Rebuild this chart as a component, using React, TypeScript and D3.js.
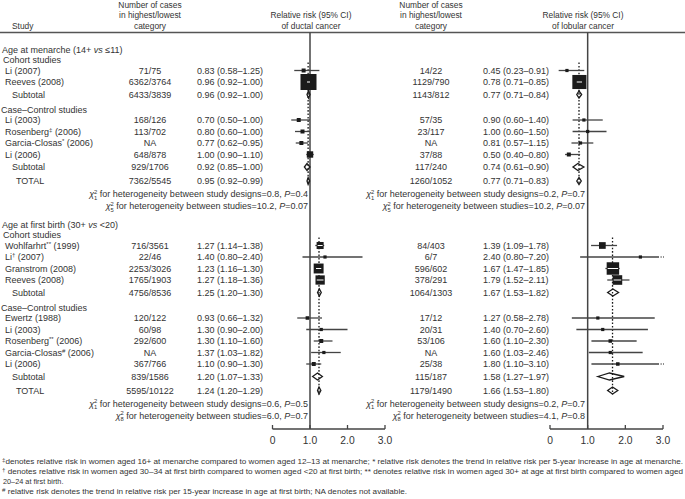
import * as d3 from "d3";

const W = 685;
const H = 499;
const FONT = "'Liberation Sans', Arial, Helvetica, sans-serif";
const TEXT = "#333";
const INK = "#1b1b1b";
const LINE = "#444";

type Study = [string, string, string]; // name, footnote mark, year

const menarcheCohort: Study[] = [["Li", "", "(2007)"], ["Reeves", "", "(2008)"]];
const menarcheCaseControl: Study[] = [
  ["Li", "", "(2003)"],
  ["Rosenberg", "‡", "(2006)"],
  ["Garcia-Closas", "*", "(2006)"],
  ["Li", "", "(2006)"],
];
const birthCohort: Study[] = [
  ["Wohlfarhrt", "**", "(1999)"],
  ["Li", "†", "(2007)"],
  ["Granstrom", "", "(2008)"],
  ["Reeves", "", "(2008)"],
];
const birthCaseControl: Study[] = [
  ["Ewertz", "", "(1988)"],
  ["Li", "", "(2003)"],
  ["Rosenberg", "**", "(2006)"],
  ["Garcia-Closas", "#", "(2006)"],
  ["Li", "", "(2006)"],
];

// row order: cohort studies, cohort subtotal, case-control studies, case-control subtotal, total
const ductalMenarcheCases = ["71/75", "6362/3764", "6433/3839", "168/126", "113/702", "NA", "648/878", "929/1706", "7362/5545"];
const ductalMenarcheRR = [0.83, 0.96, 0.96, 0.7, 0.8, 0.77, 1.0, 0.92, 0.95];
const ductalMenarcheLow = [0.58, 0.92, 0.92, 0.5, 0.6, 0.62, 0.9, 0.85, 0.92];
const ductalMenarcheHigh = [1.25, 1.0, 1.0, 1.0, 1.0, 0.95, 1.1, 1.0, 0.99];
const ductalMenarcheBox = [0.25, 1, 0, 0.25, 0.25, 0.25, 0.4, 0, 0];
const ductalMenarcheHetDf = ["1", "5"];
const ductalMenarcheHetStat = ["study designs=0.8", "studies=10.2"];
const ductalMenarcheHetP = ["0.4", "0.07"];

const lobularMenarcheCases = ["14/22", "1129/790", "1143/812", "57/35", "23/117", "NA", "37/88", "117/240", "1260/1052"];
const lobularMenarcheRR = [0.45, 0.78, 0.77, 0.9, 1.0, 0.81, 0.5, 0.74, 0.77];
const lobularMenarcheLow = [0.23, 0.71, 0.71, 0.6, 0.6, 0.57, 0.4, 0.61, 0.71];
const lobularMenarcheHigh = [0.91, 0.85, 0.84, 1.4, 1.5, 1.15, 0.8, 0.9, 0.83];
const lobularMenarcheBox = [0.2, 0.88, 0, 0.2, 0.2, 0.2, 0.25, 0, 0];
const lobularMenarcheHetDf = ["1", "5"];
const lobularMenarcheHetStat = ["study designs=0.2", "studies=10.2"];
const lobularMenarcheHetP = ["0.7", "0.07"];

const ductalBirthCases = ["716/3561", "22/46", "2253/3026", "1765/1903", "4756/8536", "120/122", "60/98", "292/600", "NA", "367/766", "839/1586", "5595/10122"];
const ductalBirthRR = [1.27, 1.4, 1.23, 1.27, 1.25, 0.93, 1.3, 1.3, 1.37, 1.1, 1.2, 1.24];
const ductalBirthLow = [1.14, 0.8, 1.16, 1.18, 1.2, 0.66, 0.9, 1.1, 1.03, 0.9, 1.07, 1.2];
const ductalBirthHigh = [1.38, 2.4, 1.3, 1.36, 1.3, 1.32, 2.0, 1.6, 1.82, 1.3, 1.33, 1.29];
const ductalBirthBox = [0.44, 0.2, 0.62, 0.58, 0, 0.22, 0.2, 0.25, 0.2, 0.25, 0, 0];
const ductalBirthHetDf = ["1", "8"];
const ductalBirthHetStat = ["study designs=0.6", "studies=6.0"];
const ductalBirthHetP = ["0.5", "0.7"];

const lobularBirthCases = ["84/403", "6/7", "596/602", "378/291", "1064/1303", "17/12", "20/31", "53/106", "NA", "25/38", "115/187", "1179/1490"];
const lobularBirthRR = [1.39, 2.4, 1.67, 1.79, 1.67, 1.27, 1.4, 1.6, 1.6, 1.8, 1.58, 1.66];
const lobularBirthLow = [1.09, 0.8, 1.47, 1.52, 1.53, 0.58, 0.7, 1.1, 1.03, 1.1, 1.27, 1.53];
const lobularBirthHigh = [1.78, 7.2, 1.85, 2.11, 1.82, 2.78, 2.6, 2.3, 2.46, 3.1, 1.97, 1.8];
const lobularBirthBox = [0.42, 0.2, 0.78, 0.6, 0, 0.2, 0.2, 0.22, 0.2, 0.22, 0, 0];
const lobularBirthHetDf = ["1", "8"];
const lobularBirthHetStat = ["study designs=0.2", "studies=4.1"];
const lobularBirthHetP = ["0.7", "0.8"];

const axisTicks = [0, 1, 2, 3];

const footnotes = [
  ["‡", "denotes relative risk in women aged 16+ at menarche compared to women aged 12–13 at menarche; * relative risk denotes the trend in relative risk per 5-year increase in age at menarche."],
  ["†", " denotes relative risk in women aged 30–34 at first birth compared to women aged <20 at first birth; ** denotes relative risk in women aged 30+ at age at first birth compared to women aged"],
  ["", "20–24 at first birth."],
  ["#", " relative risk denotes the trend in relative risk per 15-year increase in age at first birth; NA denotes not available."],
];

interface SectionData {
  cases: string[];
  rr: number[];
  low: number[];
  high: number[];
  box: number[];
  hetDf: string[];
  hetStat: string[];
  hetP: string[];
}

type Row =
  | { kind: "title"; y: number }
  | { kind: "head"; y: number; text: string }
  | { kind: "study"; y: number; study: Study; k: number }
  | { kind: "sub"; y: number; k: number }
  | { kind: "total"; y: number; k: number }
  | { kind: "het"; y: number; h: number };

const GAP = { head: 10, first: 10.5, study: 11.5, sub: 12.5, block: 15, total: 14, het1: 13, het2: 12 };

function layoutSection(y0: number, cohort: Study[], cc: Study[]): Row[] {
  const rows: Row[] = [];
  let y = y0;
  let k = 0;
  rows.push({ kind: "title", y });
  y += GAP.head;
  rows.push({ kind: "head", y, text: "Cohort studies" });
  cohort.forEach((s, i) => {
    y += i === 0 ? GAP.first : GAP.study;
    rows.push({ kind: "study", y, study: s, k: k++ });
  });
  y += GAP.sub;
  rows.push({ kind: "sub", y, k: k++ });
  y += GAP.block;
  rows.push({ kind: "head", y, text: "Case–Control studies" });
  cc.forEach((s, i) => {
    y += i === 0 ? GAP.first : GAP.study;
    rows.push({ kind: "study", y, study: s, k: k++ });
  });
  y += GAP.sub;
  rows.push({ kind: "sub", y, k: k++ });
  y += GAP.total;
  rows.push({ kind: "total", y, k: k++ });
  y += GAP.het1;
  rows.push({ kind: "het", y, h: 0 });
  y += GAP.het2;
  rows.push({ kind: "het", y, h: 1 });
  return rows;
}

const HEADER_LINE_Y = 32.5;
const AXIS_Y = 429;
const FS = 9;
const HEAD_FS = 8.4;

const sections = [layoutSection(50, menarcheCohort, menarcheCaseControl), layoutSection(225, birthCohort, birthCaseControl)];
const titles = [
  ["Age at menarche (14+ ", "vs", " ≤11)"],
  ["Age at first birth (30+ ", "vs", " <20)"],
];

const fmt = (v: number) => v.toFixed(2);
const boxSize = d3.scaleLinear().domain([0, 1]).range([0, 16]);

interface PanelCfg {
  casesX: number;
  rrTextX: number;
  headX: number;
  range: [number, number];
  hetEnd: number;
  cancer: string;
  data: SectionData[];
}

function Panel({ cfg }: { cfg: PanelCfg }) {
  const x = d3.scaleLinear().domain([0, 3]).range(cfg.range);
  const xMax = x(3);
  const one = x(1);
  return (
    <g>
      {/* header */}
      <g fontSize={HEAD_FS}>
        <text x={cfg.casesX} y={5} dy="0.35em" textAnchor="middle">Number of cases</text>
        <text x={cfg.casesX} y={15.5} dy="0.35em" textAnchor="middle">in highest/lowest</text>
        <text x={cfg.casesX} y={26} dy="0.35em" textAnchor="middle">category</text>
        <text x={cfg.headX} y={15.5} dy="0.35em" textAnchor="middle">Relative risk (95% CI)</text>
        <text x={cfg.headX} y={26} dy="0.35em" textAnchor="middle">{`of ${cfg.cancer} cancer`}</text>
      </g>

      {/* reference line at 1 */}
      <line x1={one} x2={one} y1={HEADER_LINE_Y} y2={AXIS_Y} stroke={LINE} strokeWidth={1.5} />

      {sections.map((rows, si) => {
        const d = cfg.data[si];
        const studies = rows.filter((r) => r.kind === "study");
        const totalRow = rows.find((r) => r.kind === "total") as { y: number; k: number };
        const xt = x(d.rr[totalRow.k]);
        return (
          <g key={si}>
            <line
              x1={xt}
              x2={xt}
              y1={studies[0].y - 8}
              y2={totalRow.y + 4}
              stroke={INK}
              strokeWidth={1.3}
              strokeDasharray="1.6,1.8"
            />
            {rows.map((r, ri) => {
              if (r.kind === "study" || r.kind === "sub" || r.kind === "total") {
                const k = r.k;
                const rr = d.rr[k];
                const lo = d.low[k];
                const hi = d.high[k];
                const txt = (
                  <>
                    <text x={cfg.casesX} y={r.y} dy="0.35em" textAnchor="middle">{d.cases[k]}</text>
                    <text x={cfg.rrTextX} y={r.y} dy="0.35em">{`${fmt(rr)} (${fmt(lo)}–${fmt(hi)})`}</text>
                  </>
                );
                if (r.kind === "study") {
                  const s = boxSize(d.box[k]);
                  const cx = x(rr);
                  const clipped = hi > 3;
                  const xhi = clipped ? xMax - 5 : x(hi);
                  return (
                    <g key={ri}>
                      {txt}
                      <line x1={x(lo)} x2={xhi} y1={r.y} y2={r.y} stroke={LINE} strokeWidth={1.3} />
                      {clipped && (
                        <line x1={xhi} x2={xMax + 1} y1={r.y} y2={r.y} stroke={LINE} strokeWidth={1.3} strokeDasharray="1,1.6" />
                      )}
                      <rect x={cx - s / 2} y={r.y - s / 2} width={s} height={s} fill={INK} />
                      {s > 7 && (
                        <line
                          x1={Math.max(x(lo), cx - s / 2 + 1)}
                          x2={Math.min(x(hi), cx + s / 2 - 1)}
                          y1={r.y}
                          y2={r.y}
                          stroke="#fff"
                          strokeWidth={1}
                        />
                      )}
                    </g>
                  );
                }
                const path = `M${x(lo)},${r.y}L${x(rr)},${r.y - 3.5}L${x(hi)},${r.y}L${x(rr)},${r.y + 3.5}Z`;
                return (
                  <g key={ri}>
                    {txt}
                    <path d={path} fill="none" stroke={INK} strokeWidth={1.3} />
                  </g>
                );
              }
              if (r.kind === "het") {
                return (
                  <text key={ri} x={cfg.hetEnd} y={r.y} dy="0.35em" textAnchor="end">
                    <tspan fontStyle="italic">χ</tspan>
                    <tspan fontSize={5.8} dy={-3.2}>2</tspan>
                    <tspan fontSize={5.8} dx={-3.2} dy={6}>{d.hetDf[r.h]}</tspan>
                    <tspan dy={-2.8}>{` for heterogeneity between ${d.hetStat[r.h]}, `}</tspan>
                    <tspan fontStyle="italic">P</tspan>
                    <tspan>{`=${d.hetP[r.h]}`}</tspan>
                  </text>
                );
              }
              return null;
            })}
          </g>
        );
      })}

      {/* axis */}
      <line x1={x(0)} x2={xMax} y1={AXIS_Y} y2={AXIS_Y} stroke={LINE} strokeWidth={1.3} />
      {axisTicks.map((t) => (
        <g key={t}>
          <line x1={x(t)} x2={x(t)} y1={AXIS_Y} y2={AXIS_Y - 4} stroke={LINE} strokeWidth={1.3} />
          <text x={x(t)} y={440} dy="0.35em" textAnchor="middle" fontSize={10.3}>
            {t === 0 ? "0" : d3.format(".1f")(t)}
          </text>
        </g>
      ))}
    </g>
  );
}

const leftCfg: PanelCfg = {
  casesX: 150,
  rrTextX: 197,
  headX: 311,
  range: [272.5, 385],
  hetEnd: 308,
  cancer: "ductal",
  data: [
    {
      cases: ductalMenarcheCases, rr: ductalMenarcheRR, low: ductalMenarcheLow, high: ductalMenarcheHigh,
      box: ductalMenarcheBox, hetDf: ductalMenarcheHetDf, hetStat: ductalMenarcheHetStat, hetP: ductalMenarcheHetP,
    },
    {
      cases: ductalBirthCases, rr: ductalBirthRR, low: ductalBirthLow, high: ductalBirthHigh,
      box: ductalBirthBox, hetDf: ductalBirthHetDf, hetStat: ductalBirthHetStat, hetP: ductalBirthHetP,
    },
  ],
};

const rightCfg: PanelCfg = {
  casesX: 431,
  rrTextX: 483,
  headX: 583,
  range: [550, 663],
  hetEnd: 585,
  cancer: "lobular",
  data: [
    {
      cases: lobularMenarcheCases, rr: lobularMenarcheRR, low: lobularMenarcheLow, high: lobularMenarcheHigh,
      box: lobularMenarcheBox, hetDf: lobularMenarcheHetDf, hetStat: lobularMenarcheHetStat, hetP: lobularMenarcheHetP,
    },
    {
      cases: lobularBirthCases, rr: lobularBirthRR, low: lobularBirthLow, high: lobularBirthHigh,
      box: lobularBirthBox, hetDf: lobularBirthHetDf, hetStat: lobularBirthHetStat, hetP: lobularBirthHetP,
    },
  ],
};

const footY = [464, 474, 483.5, 494];
const footLen = [681, 681, 0, 405];

export default function App() {
  return (
    <svg
      width={W}
      height={H}
      viewBox={`0 0 ${W} ${H}`}
      style={{ position: "absolute", left: 0, top: 0, background: "#fff" }}
      fontFamily={FONT}
      fontSize={FS}
      fill={TEXT}
    >
      <rect width={W} height={H} fill="#fff" />
      <text x={12} y={26} dy="0.35em" fontSize={HEAD_FS}>Study</text>
      <line x1={0} x2={W} y1={HEADER_LINE_Y} y2={HEADER_LINE_Y} stroke="#555" strokeWidth={1.3} />

      {/* study labels */}
      {sections.map((rows, si) => (
        <g key={si}>
          {rows.map((r, ri) => {
            if (r.kind === "title")
              return (
                <text key={ri} x={2} y={r.y} dy="0.35em">
                  {titles[si][0]}
                  <tspan fontStyle="italic">{titles[si][1]}</tspan>
                  {titles[si][2]}
                </text>
              );
            if (r.kind === "head")
              return (
                <text key={ri} x={r.text.startsWith("Cohort") ? 3 : 1} y={r.y} dy="0.35em">{r.text}</text>
              );
            if (r.kind === "study") {
              const [name, mark, year] = r.study;
              return (
                <text key={ri} x={5} y={r.y} dy="0.35em">
                  {name}
                  {mark ? (
                    <>
                      <tspan fontSize={6} dy={-3}>{mark}</tspan>
                      <tspan dy={3}>{` ${year}`}</tspan>
                    </>
                  ) : (
                    ` ${year}`
                  )}
                </text>
              );
            }
            if (r.kind === "sub")
              return <text key={ri} x={12} y={r.y} dy="0.35em">Subtotal</text>;
            if (r.kind === "total")
              return <text key={ri} x={16} y={r.y} dy="0.35em">TOTAL</text>;
            return null;
          })}
        </g>
      ))}

      <Panel cfg={leftCfg} />
      <Panel cfg={rightCfg} />

      {/* footnotes */}
      {footnotes.map(([mark, body], i) => (
        <text
          key={i}
          x={i === 2 ? 3 : 2}
          y={footY[i]}
          dy="0.35em"
          fontSize={7.3}
          {...(footLen[i] ? { textLength: footLen[i], lengthAdjust: "spacingAndGlyphs" } : {})}
        >
          {mark && <tspan fontSize={5.5} dy={-2.5}>{mark}</tspan>}
          <tspan dy={mark ? 2.5 : 0}>{body}</tspan>
        </text>
      ))}
    </svg>
  );
}
